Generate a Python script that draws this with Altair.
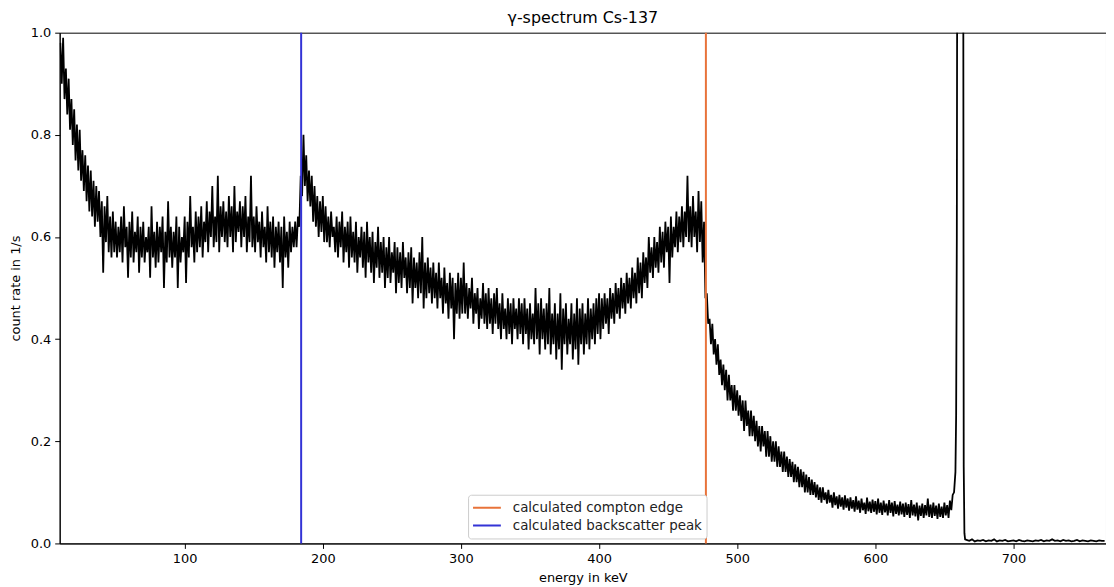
import altair as alt
import pandas as pd

# ---- spectrum values (count rate in 1/s) ----
# The noisy band is sampled every keV: even keV values sit near the upper
# edge of the band, odd keV values near its lower edge.
# (first energy in keV, values every 2 keV)
a_hi_start = 10
a_hi = [0.98, 0.99, 0.93, 0.91, 0.87, 0.85, 0.82, 0.81, 0.77, 0.76,
        0.74, 0.73, 0.71, 0.70, 0.69, 0.67, 0.66, 0.68, 0.64, 0.65]
a_lo_start = 11
a_lo = [0.90, 0.87, 0.84, 0.81, 0.78, 0.75, 0.73, 0.71, 0.69, 0.67,
        0.65, 0.64, 0.62, 0.63, 0.60, 0.53, 0.59, 0.57, 0.56, 0.57]

b_hi_start = 50
b_hi = [0.63, 0.62, 0.64, 0.66, 0.62, 0.63, 0.65, 0.61, 0.64, 0.62,
        0.63, 0.60, 0.62, 0.66, 0.61, 0.63, 0.62, 0.64, 0.61, 0.67,
        0.62, 0.61, 0.64, 0.62, 0.60, 0.64, 0.63, 0.68, 0.62, 0.65,
        0.64, 0.66, 0.63, 0.67, 0.65, 0.70, 0.64, 0.72, 0.66, 0.67,
        0.65, 0.68, 0.66, 0.70, 0.65, 0.67, 0.66, 0.68, 0.64, 0.72,
        0.64, 0.66, 0.63, 0.65, 0.62, 0.66, 0.63, 0.64, 0.62, 0.63,
        0.62, 0.64, 0.61, 0.63, 0.62]
b_lo_start = 51
b_lo = [0.56, 0.57, 0.55, 0.58, 0.52, 0.56, 0.55, 0.57, 0.53, 0.56,
        0.55, 0.57, 0.52, 0.56, 0.54, 0.55, 0.57, 0.50, 0.55, 0.56,
        0.54, 0.56, 0.50, 0.55, 0.57, 0.51, 0.56, 0.58, 0.55, 0.57,
        0.58, 0.56, 0.59, 0.57, 0.60, 0.58, 0.59, 0.57, 0.60, 0.59,
        0.58, 0.60, 0.57, 0.59, 0.61, 0.58, 0.60, 0.57, 0.59, 0.58,
        0.57, 0.59, 0.56, 0.58, 0.55, 0.57, 0.56, 0.54, 0.57, 0.55,
        0.50, 0.56, 0.54, 0.57, 0.58]

c_hi_start = 180
c_hi = [0.63, 0.64, 0.72, 0.80, 0.76, 0.73, 0.72, 0.70, 0.68, 0.67, 0.68]
c_lo_start = 181
c_lo = [0.58, 0.62, 0.68, 0.70, 0.67, 0.66, 0.63, 0.62, 0.60, 0.61, 0.59]

d_hi_start = 202
d_hi = [0.66, 0.64, 0.65, 0.62, 0.64, 0.63, 0.65, 0.62, 0.63, 0.64,
        0.61, 0.63, 0.60, 0.62, 0.61, 0.63, 0.60, 0.61, 0.59, 0.62,
        0.59, 0.60, 0.58, 0.60, 0.57, 0.59, 0.58, 0.57, 0.59, 0.56,
        0.57, 0.58, 0.56, 0.55, 0.57, 0.60, 0.55, 0.56, 0.54, 0.55,
        0.53, 0.55, 0.52, 0.54, 0.51, 0.53, 0.52, 0.51, 0.53, 0.52]
d_lo_start = 203
d_lo = [0.59, 0.58, 0.60, 0.57, 0.56, 0.58, 0.55, 0.57, 0.54, 0.56,
        0.55, 0.53, 0.56, 0.54, 0.52, 0.55, 0.53, 0.51, 0.54, 0.52,
        0.53, 0.50, 0.52, 0.51, 0.53, 0.49, 0.51, 0.50, 0.52, 0.49,
        0.50, 0.47, 0.50, 0.48, 0.49, 0.46, 0.48, 0.49, 0.47, 0.48,
        0.46, 0.48, 0.45, 0.47, 0.44, 0.46, 0.40, 0.45, 0.44, 0.45]

e_hi_start = 302
e_hi = [0.55, 0.51, 0.50, 0.52, 0.49, 0.50, 0.48, 0.51, 0.49, 0.50,
        0.48, 0.49, 0.50, 0.47, 0.49, 0.46, 0.48, 0.47, 0.48, 0.46,
        0.48, 0.47, 0.48, 0.46, 0.47, 0.45, 0.50, 0.47, 0.48, 0.46,
        0.47, 0.50, 0.45, 0.47, 0.45, 0.49, 0.46, 0.47, 0.44, 0.47,
        0.45, 0.48, 0.46, 0.47, 0.45, 0.48, 0.46, 0.47, 0.48, 0.49]
e_lo_start = 303
e_lo = [0.45, 0.44, 0.46, 0.43, 0.45, 0.42, 0.44, 0.43, 0.42, 0.43,
        0.41, 0.43, 0.42, 0.40, 0.42, 0.40, 0.41, 0.39, 0.42, 0.40,
        0.41, 0.39, 0.41, 0.38, 0.40, 0.39, 0.40, 0.37, 0.40, 0.38,
        0.39, 0.37, 0.39, 0.36, 0.38, 0.34, 0.39, 0.37, 0.39, 0.36,
        0.38, 0.35, 0.39, 0.37, 0.39, 0.38, 0.40, 0.39, 0.41, 0.40]

f_hi_start = 402
f_hi = [0.48, 0.49, 0.48, 0.50, 0.49, 0.51, 0.50, 0.52, 0.51, 0.53,
        0.52, 0.54, 0.53, 0.56, 0.55, 0.57, 0.56, 0.60, 0.58, 0.60,
        0.59, 0.62, 0.61, 0.63, 0.62, 0.64, 0.62, 0.65, 0.64, 0.66,
        0.65, 0.72, 0.66, 0.68, 0.65, 0.69, 0.67, 0.63]
f_lo_start = 403
f_lo = [0.42, 0.43, 0.41, 0.44, 0.43, 0.45, 0.44, 0.46, 0.45, 0.47,
        0.46, 0.48, 0.47, 0.49, 0.48, 0.51, 0.50, 0.53, 0.52, 0.54,
        0.53, 0.55, 0.54, 0.57, 0.51, 0.56, 0.58, 0.57, 0.59, 0.58,
        0.60, 0.59, 0.58, 0.60, 0.57, 0.59, 0.55, 0.48]

g_hi_start = 478
g_hi = [0.49, 0.44, 0.43, 0.40, 0.39, 0.36, 0.35, 0.34, 0.33, 0.31,
        0.31, 0.30, 0.29, 0.28, 0.28, 0.26, 0.26, 0.25, 0.24, 0.23,
        0.23, 0.22, 0.22, 0.21, 0.20, 0.20, 0.19, 0.18, 0.18, 0.17,
        0.165, 0.16, 0.155, 0.15, 0.145, 0.14, 0.135, 0.13, 0.125, 0.12,
        0.115, 0.11]
g_lo_start = 479
g_lo = [0.43, 0.39, 0.37, 0.35, 0.33, 0.31, 0.30, 0.28, 0.28, 0.26,
        0.26, 0.25, 0.24, 0.22, 0.23, 0.21, 0.21, 0.20, 0.19, 0.18,
        0.19, 0.17, 0.17, 0.16, 0.16, 0.15, 0.15, 0.14, 0.14, 0.13,
        0.13, 0.12, 0.12, 0.11, 0.11, 0.10, 0.10, 0.095, 0.095, 0.09,
        0.085, 0.08]

h_hi_start = 562
h_hi = [0.11, 0.10, 0.105, 0.095, 0.10, 0.092, 0.095, 0.09, 0.094, 0.088,
        0.09, 0.085, 0.092, 0.084, 0.088, 0.08, 0.09, 0.082, 0.086, 0.083,
        0.088, 0.08, 0.084, 0.078, 0.085, 0.08, 0.083, 0.076, 0.082, 0.078,
        0.08, 0.077, 0.085, 0.076, 0.08, 0.074, 0.078, 0.075, 0.088, 0.076,
        0.08, 0.074, 0.078, 0.072, 0.08, 0.075, 0.084, 0.095]
h_lo_start = 563
h_lo = [0.085, 0.078, 0.08, 0.07, 0.075, 0.068, 0.072, 0.066, 0.07, 0.064,
        0.068, 0.062, 0.066, 0.06, 0.065, 0.058, 0.063, 0.06, 0.062, 0.057,
        0.06, 0.056, 0.061, 0.055, 0.06, 0.053, 0.058, 0.055, 0.057, 0.052,
        0.056, 0.05, 0.055, 0.053, 0.045, 0.054, 0.05, 0.055, 0.052, 0.05,
        0.054, 0.048, 0.052, 0.05, 0.055, 0.05, 0.065]

# photopeak (runs far above the plotted range)
peak_energy = [657, 658, 658.5, 659, 659.5, 660, 661, 662, 663, 663.5, 664, 664.5, 665]
peak_rate = [0.10, 0.14, 0.25, 0.6, 1.6, 4.0, 6.5, 7.0, 5.0, 1.6, 0.15, 0.02, 0.008]

tail_start = 666
tail = [0.007, 0.005, 0.008, 0.004, 0.006, 0.005, 0.007, 0.004, 0.006, 0.005,
        0.008, 0.004, 0.006, 0.005, 0.007, 0.004, 0.005, 0.006, 0.004, 0.007,
        0.005, 0.004, 0.006, 0.005, 0.004, 0.006, 0.005, 0.007, 0.004, 0.006,
        0.005, 0.008, 0.005, 0.006, 0.004, 0.007, 0.005, 0.006, 0.004, 0.005,
        0.007, 0.004, 0.006, 0.005, 0.004, 0.006, 0.005, 0.004, 0.006, 0.005, 0.005]

line_labels = ["calculated compton edge", "calculated backscatter peak"]
line_energy = [477.34, 184.32]
line_colors = ["#e8733a", "#3333d6"]

x_ticks = [100, 200, 300, 400, 500, 600, 700]
y_ticks = [0.0, 0.2, 0.4, 0.6, 0.8, 1.0]

# ---- build table ----
energy, rate = [], []
for start, vals in [(a_hi_start, a_hi), (a_lo_start, a_lo), (b_hi_start, b_hi), (b_lo_start, b_lo),
                    (c_hi_start, c_hi), (c_lo_start, c_lo), (d_hi_start, d_hi), (d_lo_start, d_lo),
                    (e_hi_start, e_hi), (e_lo_start, e_lo), (f_hi_start, f_hi), (f_lo_start, f_lo),
                    (g_hi_start, g_hi), (g_lo_start, g_lo), (h_hi_start, h_hi), (h_lo_start, h_lo),
                    (tail_start, tail)]:
    for i, v in enumerate(vals):
        energy.append(start + 2 * i)
        rate.append(v)
energy += peak_energy
rate += peak_rate

df = pd.DataFrame({"energy": energy, "rate": rate}).sort_values("energy")
lines_df = pd.DataFrame({"label": line_labels, "energy": line_energy})

FONT = "DejaVu Sans"

x_enc = alt.X("energy:Q",
              scale=alt.Scale(domain=[9.5, 767], nice=False, zero=False),
              axis=alt.Axis(values=x_ticks, title="energy in keV", format="d",
                            grid=False, tickSize=5, labelPadding=4, titlePadding=6))

spectrum = alt.Chart(df).mark_line(color="black", strokeWidth=1.8, clip=True).encode(
    x=x_enc,
    y=alt.Y("rate:Q",
            scale=alt.Scale(domain=[0, 1], nice=False),
            axis=alt.Axis(values=y_ticks, format=".1f", title="count rate in 1/s",
                          grid=False, tickSize=5, labelPadding=4, titlePadding=8)),
)

rules = alt.Chart(lines_df).mark_rule(strokeWidth=2).encode(
    x=alt.X("energy:Q"),
    color=alt.Color("label:N",
                    scale=alt.Scale(domain=line_labels, range=line_colors),
                    legend=alt.Legend(title=None, orient="none", legendX=411, legendY=465,
                                      symbolType="stroke", symbolSize=784,
                                      symbolStrokeWidth=2, labelFontSize=13.5,
                                      labelFont=FONT, labelColor="#222222",
                                      labelOffset=11, labelLimit=400,
                                      padding=4, rowPadding=0, clipHeight=18,
                                      fillColor="white", strokeColor="#cccccc",
                                      cornerRadius=3)),
)

chart = alt.layer(spectrum, rules).properties(
    width=1053, height=514,
    title=alt.TitleParams("γ-spectrum Cs-137", fontSize=16, fontWeight="normal",
                          font=FONT, color="black", anchor="middle", offset=1),
    padding={"left": 52, "top": 23, "right": 0, "bottom": 42},
    autosize="none",
).configure_view(
    stroke="black", strokeWidth=1
).configure_axis(
    labelFont=FONT, titleFont=FONT, labelFontSize=13, titleFontSize=13,
    titleFontWeight="normal", labelColor="black", titleColor="black",
    domainColor="black", tickColor="black", domainWidth=1, tickWidth=1
)

chart.save("out.html", embed_options={"renderer": "svg", "actions": False})
